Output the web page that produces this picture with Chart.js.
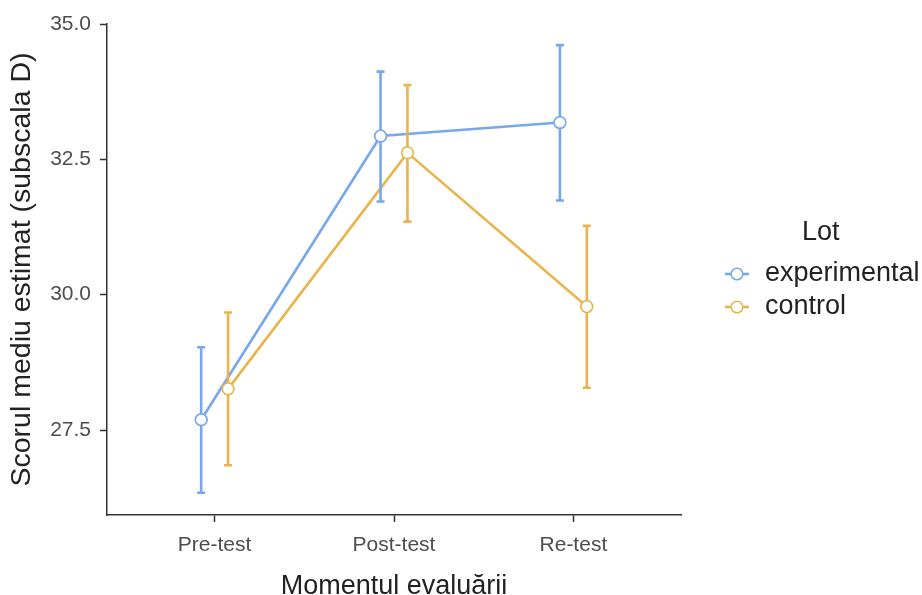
<!DOCTYPE html>
<html>
<head>
<meta charset="utf-8">
<script src="https://cdn.jsdelivr.net/npm/chart.js@4.4.1/dist/chart.umd.min.js"></script>
<style>
  body { margin: 0; background: #fff; }
</style>
</head>
<body>
<canvas id="chart" width="922" height="595"></canvas>
<script>
const categories = ['Pre-test', 'Post-test', 'Re-test'];
const groups = ['experimental', 'control'];
const expMean = [27.69, 32.93, 33.18];
const expLow = [26.34, 31.72, 31.74];
const expHigh = [29.03, 34.12, 34.61];
const ctrlMean = [28.26, 32.62, 29.78];
const ctrlLow = [26.85, 31.35, 28.28];
const ctrlHigh = [29.67, 33.87, 31.27];
const yTicks = [27.5, 30.0, 32.5, 35.0];

const blue = '#77a7ec';
const orange = '#eab44c';
const dodge = 0.075;
const font = "'Liberation Sans', Arial, sans-serif";

function points(means, lows, highs, shift) {
    return means.map((m, i) => ({ x: i + 1 + shift, y: m, low: lows[i], high: highs[i] }));
}

// error bars go above the lines, points get redrawn on top
const errorBars = {
    id: 'errorBars',
    afterDatasetsDraw(chart) {
        const ctx = chart.ctx;
        const xs = chart.scales.x, ys = chart.scales.y;
        chart.data.datasets.forEach((ds, di) => {
            ctx.save();
            ctx.strokeStyle = ds.borderColor;
            ctx.lineWidth = 2.6;
            ds.data.forEach(p => {
                const x = xs.getPixelForValue(p.x);
                const y1 = ys.getPixelForValue(p.low);
                const y2 = ys.getPixelForValue(p.high);
                ctx.beginPath();
                ctx.moveTo(x, y1); ctx.lineTo(x, y2);
                ctx.moveTo(x - 4, y1); ctx.lineTo(x + 4, y1);
                ctx.moveTo(x - 4, y2); ctx.lineTo(x + 4, y2);
                ctx.stroke();
            });
            ctx.restore();
        });
        chart.data.datasets.forEach((ds, di) => {
            chart.getDatasetMeta(di).data.forEach(pt => pt.draw(ctx, chart.chartArea));
        });
    }
};

const legendBox = {
    id: 'legendBox',
    afterDraw(chart) {
        const ctx = chart.ctx;
        ctx.save();
        ctx.fillStyle = '#222';
        ctx.font = '27px ' + font;
        ctx.textBaseline = 'middle';
        ctx.textAlign = 'left';
        ctx.fillText('Lot', 802, 233);
        chart.data.datasets.forEach((ds, i) => {
            const y = 274 + i * 33;
            ctx.strokeStyle = ds.borderColor;
            ctx.lineWidth = 2.6;
            ctx.beginPath();
            ctx.moveTo(725, y); ctx.lineTo(749, y);
            ctx.stroke();
            ctx.beginPath();
            ctx.arc(737, y, 5.8, 0, Math.PI * 2);
            ctx.fillStyle = '#fff';
            ctx.fill();
            ctx.lineWidth = 1.5;
            ctx.stroke();
            ctx.fillStyle = '#222';
            ctx.fillText(ds.label, 765, y);
        });
        ctx.restore();
    }
};

const ctx = document.getElementById('chart').getContext('2d');
const myChart = new Chart(ctx, {
    type: 'line',
    data: {
        datasets: [{
            label: groups[0],
            data: points(expMean, expLow, expHigh, -dodge),
            borderColor: blue,
            backgroundColor: '#fff',
            borderWidth: 2.6,
            pointRadius: 5.8,
            pointBorderWidth: 1.5,
            pointBackgroundColor: '#fff',
            pointBorderColor: blue
        }, {
            label: groups[1],
            data: points(ctrlMean, ctrlLow, ctrlHigh, dodge),
            borderColor: orange,
            backgroundColor: '#fff',
            borderWidth: 2.6,
            pointRadius: 5.8,
            pointBorderWidth: 1.5,
            pointBackgroundColor: '#fff',
            pointBorderColor: orange
        }]
    },
    options: {
        responsive: false,
        animation: false,
        devicePixelRatio: 1,
        layout: { padding: { top: 24, right: 241, bottom: 0, left: 0 } },
        plugins: {
            legend: { display: false },
            tooltip: { enabled: false }
        },
        scales: {
            x: {
                type: 'linear',
                min: 0.4,
                max: 3.6,
                afterBuildTicks: (scale) => { scale.ticks = categories.map((c, i) => ({ value: i + 1 })); },
                afterFit: (scale) => { scale.height = 80; },
                ticks: {
                    callback: (v) => categories[v - 1],
                    color: '#4d4d4d',
                    font: { family: font, size: 21 },
                    padding: 11,
                    maxRotation: 0
                },
                grid: { drawOnChartArea: false, tickLength: 7, tickColor: '#333', tickWidth: 1.5 },
                border: { color: '#333', width: 1.5 },
                title: {
                    display: true,
                    text: 'Momentul evaluării',
                    color: '#222',
                    font: { family: font, size: 27 },
                    padding: { top: 0, bottom: -8 }
                }
            },
            y: {
                min: 25.93,
                max: 35.0,
                afterBuildTicks: (scale) => { scale.ticks = yTicks.map(v => ({ value: v })); },
                afterFit: (scale) => { scale.width = 107; },
                ticks: {
                    callback: (v) => v.toFixed(1),
                    color: '#4d4d4d',
                    font: { family: font, size: 21 },
                    padding: 9
                },
                grid: { drawOnChartArea: false, tickLength: 7, tickColor: '#333', tickWidth: 1.5 },
                border: { color: '#333', width: 1.5 },
                title: {
                    display: true,
                    text: 'Scorul mediu estimat (subscala D)',
                    color: '#222',
                    font: { family: font, size: 28.5 },
                    padding: { top: 5, bottom: 0 }
                }
            }
        }
    },
    plugins: [errorBars, legendBox]
});
</script>
</body>
</html>
